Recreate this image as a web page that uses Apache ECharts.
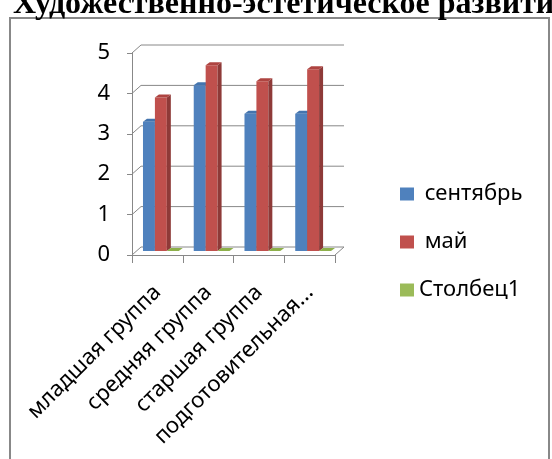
<!DOCTYPE html>
<html>
<head>
<meta charset="utf-8">
<script src="https://cdn.jsdelivr.net/npm/echarts@6/dist/echarts.min.js"></script>
<style>
  html, body { margin: 0; padding: 0; background: #fff; }
  #chart { width: 552px; height: 459px; }
</style>
</head>
<body>
<div id="chart"></div>
<script>
const categories = ['младшая группа', 'средняя группа', 'старшая группа', 'подготовительная группа'];
const september = [3.2, 4.1, 3.4, 3.4];
const may = [3.8, 4.6, 4.2, 4.5];
const column1 = [0, 0, 0, 0];
const seriesNames = ['сентябрь', 'май', 'Столбец1'];
const yTicks = [0, 1, 2, 3, 4, 5];

// perspective offsets of the pseudo 3D box
const DX = 9;
const DY = 8;
const BAR_DX = 4;
const BAR_DY = 3;
const FONT = '"Noto Sans", sans-serif';
const LABEL_MAX_CHARS = 16;

const palette = [
  { front: '#4F81BD', side: '#3A6291', top: '#4374AE' },
  { front: '#C0504D', side: '#8E3A38', top: '#AE4441' },
  { front: '#9BBB59', side: '#76923F', top: '#8DB04A' },
];

function wallItem(params, api) {
  const cs = params.coordSys;
  const y = api.coord([0, api.value(1)])[1];
  const x0 = cs.x;
  const x1 = cs.x + cs.width;
  const style = { stroke: '#888', lineWidth: 1, fill: null };
  const children = [{
    type: 'polyline',
    shape: { points: [[x0, y], [x0 + DX, y - DY], [x1 + DX, y - DY]] },
    style,
  }];
  if (api.value(1) === 0) {
    children.push({ type: 'polyline', shape: { points: [[x1, y], [x1 + DX, y - DY]] }, style });
  }
  return { type: 'group', children };
}

function barItem(k) {
  return (params, api) => {
    const band = api.size([1, 0])[0];
    const bw = band * 0.235;
    const base = api.coord([api.value(0), 0]);
    const top = api.coord([api.value(0), api.value(1)])[1];
    const sx = DX / 2;
    const sy = DY / 2;
    const x = base[0] - 1.5 * bw + k * bw + sx - 1;
    const yb = base[1] - sy;
    const yt = top - sy;
    const c = palette[k];
    const children = [];
    if (yb - yt > 0.5) {
      children.push({
        type: 'rect',
        shape: { x, y: yt, width: bw, height: yb - yt },
        style: { fill: c.front },
      });
      children.push({
        type: 'polygon',
        shape: { points: [[x + bw, yt], [x + bw + BAR_DX, yt - BAR_DY], [x + bw + BAR_DX, yb - BAR_DY], [x + bw, yb]] },
        style: { fill: c.side },
      });
    }
    children.push({
      type: 'polygon',
      shape: { points: [[x, yt], [x + BAR_DX, yt - BAR_DY], [x + bw + BAR_DX, yt - BAR_DY], [x + bw, yt]] },
      style: { fill: c.top },
    });
    return { type: 'group', children };
  };
}

const chart = echarts.init(document.getElementById('chart'));
const values = [september, may, column1];

chart.setOption({
  animation: false,
  backgroundColor: '#fff',
  title: {
    text: 'Художественно-эстетическое развитие',
    left: 8,
    top: -16,
    textStyle: { fontFamily: '"Liberation Serif", serif', fontWeight: 'bold', fontSize: 32, color: '#000' },
  },
  graphic: [{
    type: 'rect',
    z: -1,
    shape: { x: 10, y: 18, width: 539, height: 460 },
    style: { fill: null, stroke: '#888', lineWidth: 2 },
  }],
  legend: {
    orient: 'vertical',
    left: 395,
    top: 178,
    itemWidth: 14,
    itemHeight: 13,
    itemGap: 26,
    data: seriesNames.map((name) => ({ name, icon: 'rect' })),
    formatter: (name) => (name === 'Столбец1' ? name : ' ' + name),
    textStyle: { fontFamily: FONT, fontSize: 22, color: '#000' },
  },
  grid: { left: 132, right: 217, top: 53, bottom: 204, outerBoundsMode: 'none' },
  xAxis: {
    type: 'category',
    data: categories,
    axisLine: { lineStyle: { color: '#888' } },
    axisTick: { show: true, length: 8, lineStyle: { color: '#888' } },
    axisLabel: {
      rotate: 45,
      interval: 0,
      margin: 34,
      fontFamily: FONT,
      fontSize: 22,
      color: '#000',
      overflow: 'none',
      hideOverlap: false,
      formatter: (name) => (name.length > LABEL_MAX_CHARS ? name.slice(0, LABEL_MAX_CHARS) + '...' : name),
    },
  },
  yAxis: {
    type: 'value',
    min: 0,
    max: 5,
    interval: 1,
    axisLine: { show: true, lineStyle: { color: '#888' } },
    axisTick: { show: true, length: 5, lineStyle: { color: '#888' } },
    splitLine: { show: false },
    axisLabel: { margin: 22, fontFamily: FONT, fontSize: 22, color: '#000' },
  },
  series: [
    {
      name: 'walls',
      type: 'custom',
      silent: true,
      z: 1,
      renderItem: wallItem,
      encode: { x: 0, y: 1 },
      data: yTicks.map((v) => [0, v]),
    },
    ...seriesNames.map((name, k) => ({
      name,
      type: 'custom',
      z: 3,
      itemStyle: { color: palette[k].front },
      renderItem: barItem(k),
      encode: { x: 0, y: 1 },
      data: values[k].map((v, i) => [i, v]),
    })),
  ],
});
</script>
</body>
</html>
